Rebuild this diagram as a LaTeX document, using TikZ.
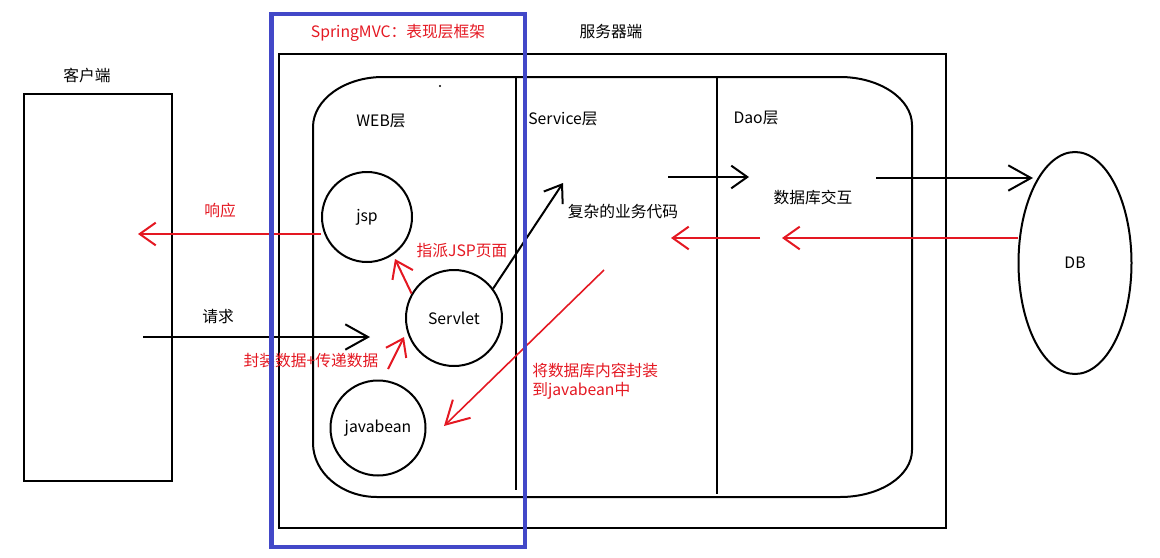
\documentclass[tikz,border=0pt]{standalone}
\usepackage{fontspec}
\setmainfont{Noto Sans CJK SC}
\usetikzlibrary{arrows.meta,shapes.geometric}
\definecolor{myred}{RGB}{228,24,34}
\definecolor{myblue}{RGB}{66,72,200}
\tikzset{
  ln/.style={line width=1.5pt},
  redln/.style={line width=1.5pt, draw=myred},
  barb/.style={-{Straight Barb[length=12pt,width=17pt,line width=1.5pt]}},
  bigbarb/.style={-{Straight Barb[length=17pt,width=19pt,line width=1.5pt]}},
  txt/.style={inner sep=0pt, font=\fontsize{11.8}{14}\selectfont},
  redtxt/.style={txt, text=myred},
  circ/.style={circle, draw, line width=1.5pt, minimum size=#1*0.75pt, inner sep=0pt},
}
\begin{document}
\begin{tikzpicture}[x=0.75pt,y=-0.75pt]
\useasboundingbox (0,0) rectangle (1160,557);
% client and server boxes
\draw[ln] (24,94) rectangle (172,481);
\draw[ln] (279,54) rectangle (946,528);
% rounded inner region
\draw[ln] (383,77) -- (840,77)
  .. controls (880,77) and (912,99) .. (912,125) -- (912,450)
  .. controls (912,476) and (880,497) .. (840,497) -- (377,497)
  .. controls (342,497) and (313,473) .. (313,443) -- (313,127)
  .. controls (313,100) and (344,77) .. (383,77);
\draw[ln] (516,77) -- (516,490);
\draw[ln] (717,77) -- (717,494);
\fill (440,86) circle (1.2);
% titles
\node[txt] (client) at (87,75) {客户端};
\node[txt] (server) at (611,32) {服务器端};
\node[redtxt] (mvc) at (398,33) {SpringMVC：表现层框架};
\node[txt] (web) at (381,121) {WEB层};
\node[txt] (svc) at (563,119) {Service层};
\node[txt] (dao) at (756,118) {Dao层};
% circles
\node[circ=90, txt] (jsp) at (367,217) {jsp};
\node[circ=96, txt] (servlet) at (454,318) {Servlet};
\node[circ=95, txt] (bean) at (378,428) {javabean};
\node[draw, ellipse, line width=1.5pt, minimum width=113*0.75pt, minimum height=222*0.75pt, inner sep=0pt, txt] (db) at (1075,263) {DB};
% texts
\node[redtxt] (resp) at (220,211) {响应};
\node[txt] (req) at (218,317) {请求};
\node[redtxt] (pack) at (311,361) {封装数据+传递数据};
\node[redtxt] (assign) at (462,251) {指派JSP页面};
\node[txt] (biz) at (623,212) {复杂的业务代码};
\node[txt] (dbio) at (813,197) {数据库交互};
\node[redtxt, align=left, anchor=west] (wrap) at (532,381) {将数据库内容封装\\到javabean中};
% coordinates
\coordinate (reqS) at (143,337);
\coordinate (reqE) at (370,337);
\coordinate (respE) at (138,234);
\coordinate (bizE) at (563,183);
\coordinate (a1S) at (668,177);
\coordinate (a1E) at (749,177);
\coordinate (a2S) at (876,178);
\coordinate (a2E) at (1033,178);
\coordinate (r1E) at (782,238);
\coordinate (r2S) at (760,238);
\coordinate (r2E) at (671,238);
\coordinate (r3S) at (604,270);
\coordinate (r3E) at (444,426);
\coordinate (r4S) at (388,369);
\coordinate (r4E) at (404,337);
\coordinate (r5E) at (395,259);
% connectors
\draw[redln, barb] (jsp.west |- 0,234) -- (respE);
\draw[ln, bigbarb] (reqS) -- (reqE);
\draw[redln, barb] (r4S) -- (r4E);
\draw[redln, barb] (servlet.150) -- (r5E);
\draw[ln, barb] (servlet.37) -- (bizE);
\draw[ln, barb] (a1S) -- (a1E);
\draw[ln, bigbarb] (a2S) -- (a2E);
\draw[redln, barb] (db.west |- 0,238) -- (r1E);
\draw[redln, barb] (r2S) -- (r2E);
\draw[redln, line width=1.2pt, bigbarb] (r3S) -- (r3E);
% blue frame
\draw[myblue, line width=3.4pt] (271.5,14) rectangle (525,547);
\end{tikzpicture}
\end{document}
